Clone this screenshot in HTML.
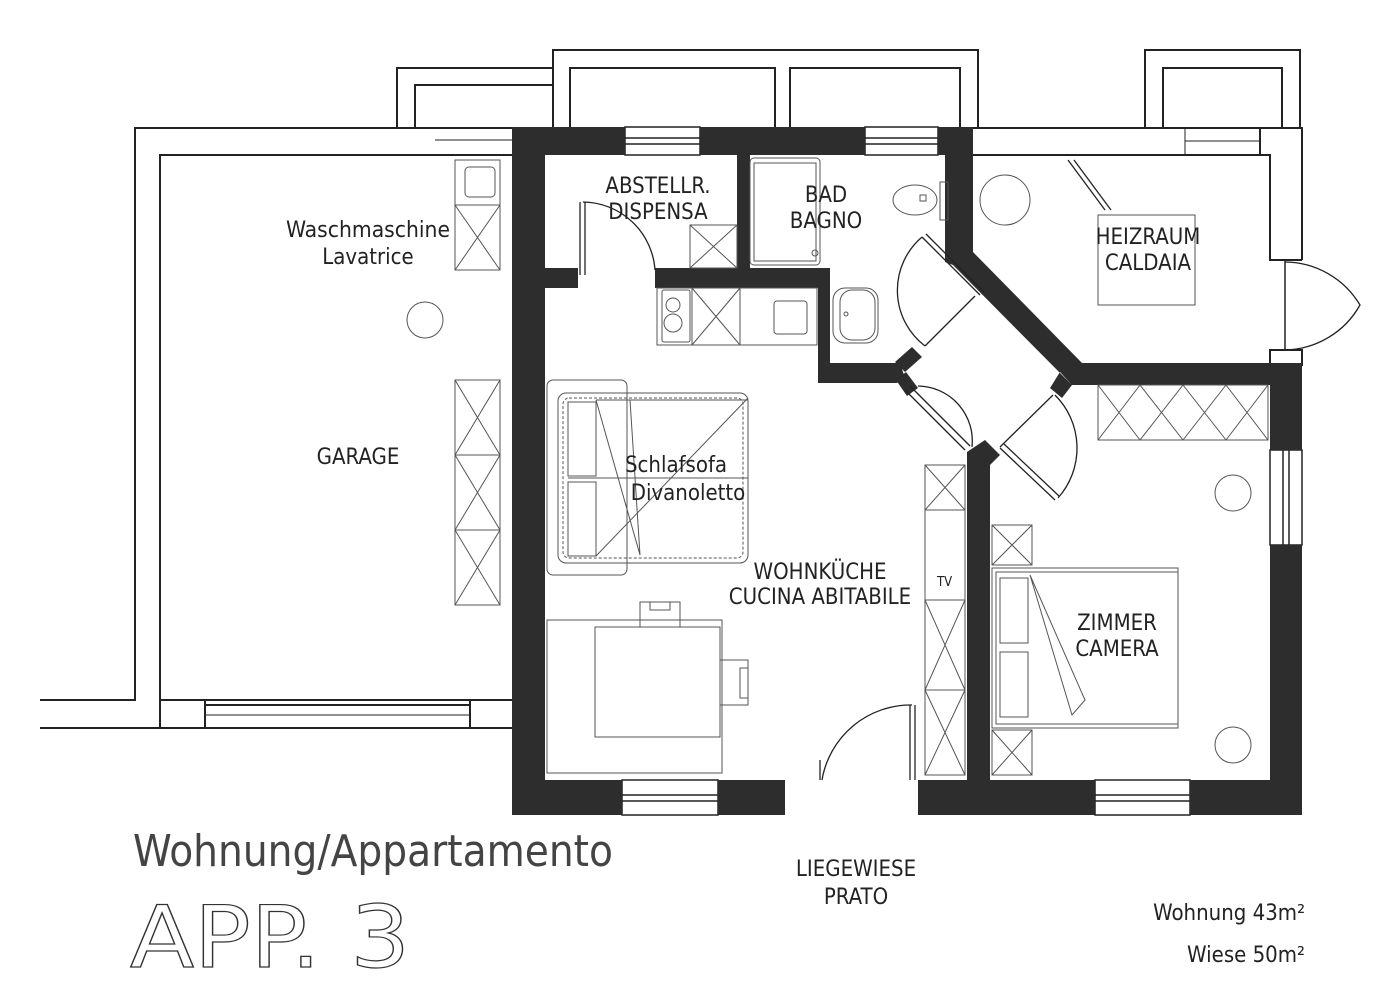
<!DOCTYPE html>
<html><head><meta charset="utf-8"><style>
html,body{margin:0;padding:0;background:#fff;}
svg{display:block}
text{font-family:"DejaVu Sans Condensed","Liberation Sans Narrow","Liberation Sans",sans-serif;fill:#222}
</style></head><body>
<svg width="1400" height="990" viewBox="0 0 1400 990" xmlns="http://www.w3.org/2000/svg">
<rect width="1400" height="990" fill="#fff"/>
<g fill="none" stroke="#222" stroke-width="2">
<polyline points="397,128 397,68 553,68"/>
<polyline points="415,128 415,85 553,85"/>
<polyline points="553,128 553,50 978,50 978,128"/>
<polyline points="570,128 570,68 775,68 775,128"/>
<polyline points="790,128 790,68 960,68 960,128"/>
<polyline points="1145,128 1145,50 1300,50 1300,128"/>
<polyline points="1163,128 1163,68 1282,68 1282,128"/>
<polyline points="512,128 135,128 135,700 40,700"/>
<polyline points="435,155 160,155 160,728 205,728"/>
<line x1="40" y1="728" x2="160" y2="728"/>
<line x1="205" y1="705" x2="470" y2="705"/><line x1="205" y1="728" x2="470" y2="728"/>
<line x1="205" y1="715" x2="470" y2="715" stroke-width="1"/>
<polyline points="205,700 205,728"/><polyline points="470,700 470,728"/>
<polyline points="160,700 512,700"/><line x1="470" y1="728" x2="512" y2="728"/>
<line x1="435" y1="155" x2="512" y2="155"/><line x1="435" y1="140" x2="512" y2="140" stroke-width="1"/>
<polyline points="973,128 1302,128 1302,260"/>
<polyline points="973,155 1270,155 1270,260 1302,260"/>
<line x1="1260" y1="128" x2="1260" y2="155"/>
<line x1="1185" y1="128" x2="1185" y2="155" stroke-width="1"/>
<line x1="1185" y1="141" x2="1260" y2="141" stroke-width="1"/>
<rect x="1270" y="350" width="32" height="15"/>
<line x1="1285" y1="260" x2="1285" y2="350" stroke-width="1.5"/>
<path d="M1285,262 A88,88 0 0 1 1360,305 A88,88 0 0 1 1285,350" stroke-width="1.3"/>
</g>
<g stroke="#222" stroke-width="1.5" fill="#fff">
<rect x="625" y="127" width="75" height="28"/><line x1="625" y1="138" x2="700" y2="138"/><line x1="625" y1="144" x2="700" y2="144"/>
<rect x="865" y="127" width="73" height="28"/><line x1="865" y1="138" x2="938" y2="138"/><line x1="865" y1="144" x2="938" y2="144"/>
<rect x="622" y="780" width="96" height="35"/><line x1="622" y1="795" x2="718" y2="795"/><line x1="622" y1="801" x2="718" y2="801"/>
<rect x="1095" y="780" width="95" height="35"/><line x1="1095" y1="795" x2="1190" y2="795"/><line x1="1095" y1="801" x2="1190" y2="801"/>
<rect x="1270" y="450" width="32" height="95"/><line x1="1283" y1="450" x2="1283" y2="545"/><line x1="1289" y1="450" x2="1289" y2="545"/>
</g>
<g fill="#2d2d2d">
<rect x="512" y="127" width="113" height="28"/>
<rect x="700" y="127" width="165" height="28"/>
<rect x="938" y="127" width="35" height="28"/>
<rect x="512" y="127" width="33" height="688"/>
<rect x="512" y="780" width="110" height="35"/>
<rect x="718" y="780" width="67" height="35"/>
<rect x="918" y="780" width="177" height="35"/>
<rect x="1190" y="780" width="112" height="35"/>
<rect x="1270" y="365" width="32" height="85"/>
<rect x="1270" y="545" width="32" height="270"/>
<rect x="737" y="155" width="13" height="113"/>
<rect x="545" y="268" width="33" height="20"/>
<rect x="655" y="268" width="175" height="20"/>
<polygon points="818,268 830,268 830,363 900,363 905,378 897,383 818,383"/>
<polygon points="895,362 912,347 922,357 905,372"/>
<polygon points="945,150 973,150 973,252 1082,363 1302,363 1302,385 1072,385 1060,372 1050,388 1062,398 1072,385 1065,378 953,265 945,262"/>
<polygon points="896,380 906,372 918,388 907,396"/>
<polygon points="967,452 985,440 1000,455 990,465 990,815 967,815"/>
</g>
<g fill="none" stroke="#222" stroke-width="1.3">
<line x1="580" y1="202" x2="580" y2="275"/><line x1="585" y1="202" x2="585" y2="275"/>
<path d="M583,202 A73,73 0 0 1 655,270"/>
<line x1="820" y1="780" x2="820" y2="760"/>
<line x1="910" y1="705" x2="910" y2="780"/><line x1="915" y1="705" x2="915" y2="780"/>
<path d="M912,705 A90,90 0 0 0 822,780"/>
<line x1="922" y1="237" x2="980" y2="295"/><line x1="926" y1="234" x2="984" y2="292"/>
<line x1="975" y1="296" x2="925" y2="346"/>
<path d="M922,237 A70,70 0 0 0 925,346"/>
<line x1="905" y1="390" x2="965" y2="450"/><line x1="910" y1="386" x2="970" y2="446"/>
<path d="M918,386 A55,55 0 0 1 972,447"/>
<line x1="1053" y1="395" x2="1000" y2="447"/>
<line x1="1000" y1="448" x2="1055" y2="500"/><line x1="1004" y1="444" x2="1059" y2="496"/>
<path d="M1055,395 A75,75 0 0 1 1058,498"/>
<line x1="1068" y1="160" x2="1105" y2="210"/><line x1="1074" y1="160" x2="1111" y2="210"/>
</g>
<g fill="none" stroke="#555" stroke-width="1">
<rect x="455" y="160" width="45" height="45"/><rect x="465" y="167" width="30" height="30" rx="4"/>
<rect x="455" y="205" width="45" height="65"/><path d="M455,205 L500,270 M500,205 L455,270"/>
<circle cx="425" cy="320" r="18"/>
<rect x="455" y="380" width="45" height="225"/>
<path d="M455,380 L500,455 M500,380 L455,455 M455,455 L500,530 M500,455 L455,530 M455,530 L500,605 M500,530 L455,605"/>
<line x1="455" y1="455" x2="500" y2="455"/><line x1="455" y1="530" x2="500" y2="530"/>
<rect x="690" y="225" width="47" height="43"/><path d="M690,225 L737,268 M737,225 L690,268"/>
<rect x="657" y="288" width="160" height="57"/>
<rect x="662" y="290" width="28" height="52" rx="2"/>
<circle cx="673" cy="305" r="7"/><circle cx="673" cy="323" r="9"/>
<line x1="692" y1="288" x2="692" y2="345"/><line x1="740" y1="288" x2="740" y2="345"/>
<path d="M692,288 L740,345 M740,288 L692,345"/>
<rect x="774" y="301" width="33" height="33" rx="3"/>
<rect x="750" y="158" width="70" height="107" rx="4"/><rect x="754" y="163" width="62" height="98"/>
<circle cx="815" cy="253" r="3"/>
<rect x="833" y="288" width="45" height="55" rx="12"/><rect x="840" y="290" width="35" height="50" rx="12"/><circle cx="846" cy="314" r="2"/>
<ellipse cx="915" cy="200" rx="22" ry="15"/><rect x="940" y="182" width="8" height="38"/><rect x="920" y="195" width="6" height="6"/>
<circle cx="1005" cy="200" r="25"/>
<rect x="1098" y="215" width="97" height="90"/>
<rect x="547" y="380" width="80" height="195" rx="6"/>
<rect x="558" y="393" width="190" height="170" rx="8"/>
<rect x="563" y="398" width="180" height="160" rx="6" stroke-dasharray="3,2"/>
<rect x="568" y="402" width="28" height="74"/><rect x="568" y="482" width="28" height="74"/>
<path d="M596,400 L640,555 L630,400 M596,400 L748,400 M596,556 L748,398 M568,478 L748,478"/>
<rect x="547" y="620" width="175" height="153"/>
<rect x="595" y="627" width="125" height="110"/>
<rect x="640" y="602" width="40" height="25"/><rect x="650" y="602" width="20" height="8"/>
<rect x="720" y="660" width="28" height="45"/><rect x="740" y="668" width="8" height="30"/>
<rect x="925" y="465" width="40" height="310"/>
<path d="M925,465 L965,510 M965,465 L925,510"/><line x1="925" y1="510" x2="965" y2="510"/>
<rect x="925" y="600" width="40" height="175"/>
<path d="M925,600 L965,690 M965,600 L925,690 M925,690 L965,775 M965,690 L925,775"/><line x1="925" y1="690" x2="965" y2="690"/>
<rect x="1098" y="385" width="170" height="55"/>
<path d="M1098,385 L1140,440 M1140,385 L1098,440 M1140,385 L1183,440 M1183,385 L1140,440 M1183,385 L1226,440 M1226,385 L1183,440 M1226,385 L1268,440 M1268,385 L1226,440"/>
<circle cx="1233" cy="493" r="18"/><circle cx="1233" cy="745" r="18"/>
<rect x="992" y="525" width="40" height="40"/><path d="M992,525 L1032,565 M1032,525 L992,565"/>
<rect x="992" y="730" width="40" height="45"/><path d="M992,730 L1032,775 M1032,730 L992,775"/>
<rect x="992" y="568" width="186" height="160"/><rect x="996" y="572" width="182" height="152"/>
<rect x="1000" y="578" width="28" height="65"/><rect x="1000" y="652" width="28" height="65"/>
<path d="M1030,575 L1072,715 L1085,700 L1030,575"/>
</g>
<g font-size="22" text-anchor="middle">
<text x="368" y="237" textLength="164" lengthAdjust="spacingAndGlyphs">Waschmaschine</text>
<text x="368" y="264">Lavatrice</text>
<text x="358" y="464">GARAGE</text>
<text x="658" y="193">ABSTELLR.</text>
<text x="658" y="219">DISPENSA</text>
<text x="826" y="202">BAD</text>
<text x="826" y="228">BAGNO</text>
<text x="1148" y="244">HEIZRAUM</text>
<text x="1148" y="270">CALDAIA</text>
<text x="676" y="472">Schlafsofa</text>
<text x="688" y="500">Divanoletto</text>
<text x="820" y="579">WOHNKÜCHE</text>
<text x="820" y="604">CUCINA ABITABILE</text>
<text x="1117" y="630">ZIMMER</text>
<text x="1117" y="656">CAMERA</text>
<text x="856" y="876">LIEGEWIESE</text>
<text x="856" y="904">PRATO</text>
</g>
<text x="937" y="586" font-size="13">TV</text>
<text x="133" y="866" font-size="44" textLength="480" lengthAdjust="spacingAndGlyphs" style="fill:#444">Wohnung/Appartamento</text>
<text x="130" y="967" font-size="86" textLength="280" lengthAdjust="spacingAndGlyphs" style="fill:#fff;stroke:#333;stroke-width:1.2">APP. 3</text>
<text x="1305" y="920" font-size="22" text-anchor="end">Wohnung 43m²</text>
<text x="1305" y="962" font-size="22" text-anchor="end">Wiese 50m²</text>
</svg>
</body></html>
